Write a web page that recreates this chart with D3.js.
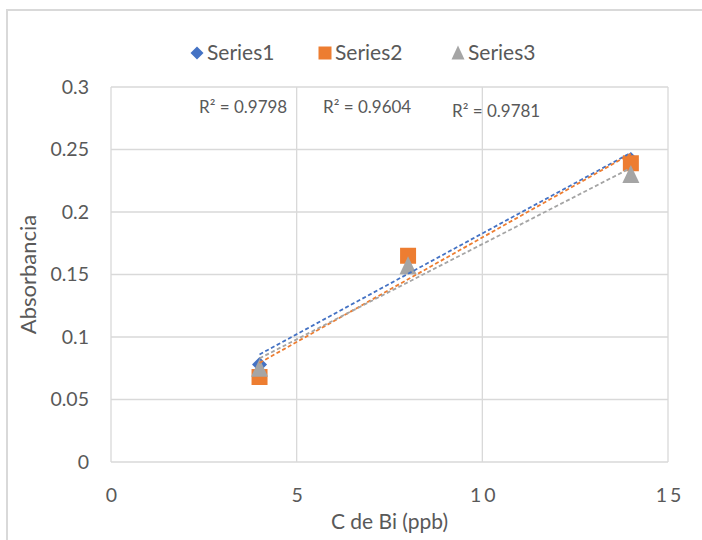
<!DOCTYPE html>
<html>
<head>
<meta charset="utf-8">
<script src="https://cdn.jsdelivr.net/npm/d3@7"></script>
<style>
  html, body { margin: 0; padding: 0; background: #fff; }
  svg { display: block; }
  text { font-family: Lato, "Open Sans", sans-serif; fill: #595959; }
</style>
</head>
<body>
<svg id="chart" width="702" height="540"></svg>
<script>
// Concentration of Bi (ppb) for every series
const concentrations = [4, 8, 14];

// Absorbance readings per series
const series1 = [0.078, 0.164, 0.242];
const series2 = [0.068, 0.165, 0.239];
const series3 = [0.075, 0.157, 0.230];

const seriesNames = ["Series1", "Series2", "Series3"];
const seriesColors = ["#4472C4", "#ED7D31", "#A5A5A5"];
const seriesSymbols = ["diamond", "square", "triangle"];

// Coefficient of determination printed for each trendline
const rSquaredLabels = ["R² = 0.9798", "R² = 0.9604", "R² = 0.9781"];

const xTicks = [0, 5, 10, 15];
const yTicks = [0, 0.05, 0.1, 0.15, 0.2, 0.25, 0.3];

const svg = d3.select("#chart");
const W = 702, H = 540;
const plot = { left: 111, right: 668, top: 87, bottom: 462 };

// Chart area border
svg.append("rect")
  .attr("x", 7).attr("y", 10)
  .attr("width", W + 20).attr("height", H + 20)
  .attr("fill", "#fff").attr("stroke", "#D9D9D9").attr("stroke-width", 2);

const x = d3.scaleLinear().domain([0, 15]).range([plot.left, plot.right]);
const y = d3.scaleLinear().domain([0, 0.3]).range([plot.bottom, plot.top]);

// Gridlines
const grid = svg.append("g");
grid.selectAll("line.v").data(xTicks).join("line")
  .attr("x1", d => x(d)).attr("x2", d => x(d))
  .attr("y1", plot.top).attr("y2", plot.bottom)
  .attr("stroke", "#D9D9D9").attr("stroke-width", 1.3);
grid.selectAll("line.h").data(yTicks).join("line")
  .attr("x1", plot.left).attr("x2", plot.right)
  .attr("y1", d => y(d)).attr("y2", d => y(d))
  .attr("stroke", "#D9D9D9").attr("stroke-width", 1.3);

// Axes (labels only, lines come from the grid)
const xSpacing = 3;
const xAxis = d3.axisBottom(x).tickValues(xTicks).tickSize(0).tickPadding(26)
  .tickFormat(d3.format("d"));
const gx = svg.append("g").attr("transform", `translate(0,${plot.bottom})`).call(xAxis);
gx.select(".domain").remove();
gx.selectAll("text").style("font-size", "19.5px").attr("fill", "#595959")
  .style("letter-spacing", xSpacing + "px").attr("dx", xSpacing / 2);

const yAxis = d3.axisLeft(y).tickValues(yTicks).tickSize(0).tickPadding(22)
  .tickFormat(d => String(+d.toFixed(2)));
const gy = svg.append("g").attr("transform", `translate(${plot.left},0)`).call(yAxis);
gy.select(".domain").remove();
gy.selectAll("text").style("font-size", "19.5px").attr("fill", "#595959");

// Axis titles
svg.append("text")
  .attr("x", (plot.left + plot.right) / 2).attr("y", 529)
  .attr("text-anchor", "middle").style("font-size", "21px")
  .text("C de Bi (ppb)");
svg.append("text")
  .attr("transform", `translate(36,${(plot.top + plot.bottom) / 2}) rotate(-90)`)
  .attr("text-anchor", "middle").style("font-size", "22px")
  .text("Absorbancia");

// Marker shapes, sized in pixels
function markerPath(kind, s) {
  const h = s / 2;
  const p = d3.path();
  if (kind === "diamond") {
    p.moveTo(0, -h); p.lineTo(h, 0); p.lineTo(0, h); p.lineTo(-h, 0);
  } else if (kind === "square") {
    p.rect(-h, -h, s, s);
  } else {
    p.moveTo(0, -h - 1); p.lineTo(h, h); p.lineTo(-h, h);
  }
  p.closePath();
  return p.toString();
}
const markerSize = { diamond: 15, square: 16, triangle: 17 };

const allSeries = [series1, series2, series3].map((vals, i) => ({
  name: seriesNames[i], color: seriesColors[i], symbol: seriesSymbols[i],
  points: vals.map((v, j) => ({ x: concentrations[j], y: v }))
}));

// Markers
allSeries.forEach(s => {
  svg.append("g").selectAll("path").data(s.points).join("path")
    .attr("transform", d => `translate(${x(d.x)},${y(d.y)})`)
    .attr("d", markerPath(s.symbol, markerSize[s.symbol]))
    .attr("fill", s.color);
});

// Least-squares trendlines over the data range
function fit(points) {
  const mx = d3.mean(points, p => p.x), my = d3.mean(points, p => p.y);
  const sxy = d3.sum(points, p => (p.x - mx) * (p.y - my));
  const sxx = d3.sum(points, p => (p.x - mx) ** 2);
  const slope = sxy / sxx;
  return { slope, intercept: my - slope * mx };
}
allSeries.forEach(s => {
  const f = fit(s.points);
  const [x0, x1] = d3.extent(s.points, p => p.x);
  svg.append("line")
    .attr("x1", x(x0)).attr("y1", y(f.intercept + f.slope * x0))
    .attr("x2", x(x1)).attr("y2", y(f.intercept + f.slope * x1))
    .attr("stroke", s.color).attr("stroke-width", 1.8)
    .attr("stroke-dasharray", "4,2.5");
});

// R² labels
const rPos = [[199, 113], [323, 113], [452, 117]];
svg.append("g").selectAll("text").data(rSquaredLabels).join("text")
  .attr("x", (d, i) => rPos[i][0]).attr("y", (d, i) => rPos[i][1])
  .style("font-size", "17px").attr("fill", "#595959")
  .text(d => d);

// Legend
const legendPos = [197, 325, 458];
const legend = svg.append("g");
allSeries.forEach((s, i) => {
  const g = legend.append("g").attr("transform", `translate(${legendPos[i]},53)`);
  g.append("path")
    .attr("d", markerPath(s.symbol, 13))
    .attr("fill", s.color);
  g.append("text").attr("x", 10).attr("y", 7)
    .style("font-size", "21px").text(s.name);
});
</script>
</body>
</html>
